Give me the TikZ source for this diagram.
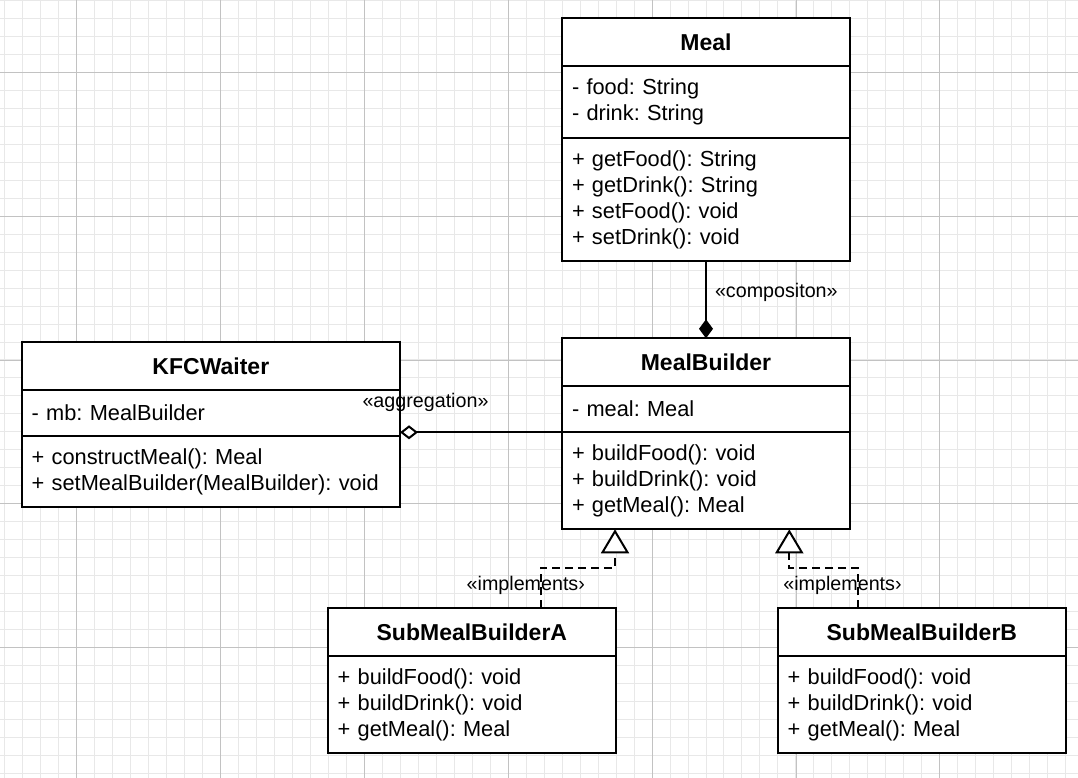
\documentclass[tikz,border=0pt]{standalone}
\usepackage{fontspec}
\setmainfont{Liberation Sans}
\frenchspacing
\usetikzlibrary{arrows.meta, positioning, calc}

\tikzset{
  gridminor/.style={line width=1pt, color=black!9},
  gridmajor/.style={line width=1pt, color=black!24},
  classtitle/.style={draw, line width=2pt, fill=white, outer sep=0pt, inner sep=0pt,
    minimum width=#1, minimum height=47.7pt, font=\bfseries\fontsize{23}{26}\selectfont},
  classpart/.style={draw, line width=2pt, fill=white, outer sep=0pt, inner xsep=10pt,
    inner ysep=0pt, text width=#1, align=left, font=\fontsize{21.8}{26}\selectfont},
  stereo/.style={inner sep=0pt, font=\fontsize{19.7}{22}\selectfont},
  composition/.style={line width=2pt, -{Diamond[length=19pt,width=14pt]}},
  aggregation/.style={line width=2pt, -{Diamond[open,fill=white,length=18pt,width=14pt]}},
  realization/.style={line width=2pt, dash pattern=on 8pt off 5pt,
    -{Triangle[open,fill=white,length=24pt,width=28pt]}}
}

\begin{document}
\begin{tikzpicture}[x=1pt,y=-1pt]
				\useasboundingbox (0,0) rectangle (1078,778);
				
				% Draw the background grid
				\fill[white] (0,0) rectangle (1078,778);
				\foreach \k in {0,...,59} \draw[gridminor] ({4.78+17.98*\k},0) -- ++(0,778);
				\foreach \k in {0,...,43} \draw[gridminor] (0,{0.38+17.98*\k}) -- ++(1078,0);
				\foreach \k in {0,...,6} \draw[gridmajor] ({76.7+143.86*\k},0) -- ++(0,778);
				\foreach \k in {0,...,4} \draw[gridmajor] (0,{72.3+143.86*\k}) -- ++(1078,0);
				
				% Class Meal
				\node[classtitle=288pt, anchor=north west] (mealtitle) at (562,18.3) {Meal};
				\node[classpart=268pt, minimum height=71.6pt, below=0pt of mealtitle] (mealattr)
					{- food: String\\- drink: String};
				\node[classpart=268pt, minimum height=123.7pt, below=0pt of mealattr] (mealops)
					{+ getFood(): String\\+ getDrink(): String\\+ setFood(): void\\+ setDrink(): void};
				
				% Class MealBuilder
				\node[classtitle=288pt, anchor=north west] (mbtitle) at (562,338.3) {MealBuilder};
				\node[classpart=268pt, minimum height=46.3pt, below=0pt of mbtitle] (mbattr)
					{- meal: Meal};
				\node[classpart=268pt, minimum height=97pt, below=0pt of mbattr] (mbops)
					{+ buildFood(): void\\+ buildDrink(): void\\+ getMeal(): Meal};
				
				% Class KFCWaiter
				\node[classtitle=378.3pt, anchor=north west] (kfctitle) at (21.7,342.3) {KFCWaiter};
				\node[classpart=358.3pt, minimum height=46pt, below=0pt of kfctitle] (kfcattr)
					{- mb: MealBuilder};
				\node[classpart=358.3pt, minimum height=71.3pt, below=0pt of kfcattr] (kfcops)
					{+ constructMeal(): Meal\\+ setMealBuilder(MealBuilder): void};
				
				% Classes SubMealBuilderA and SubMealBuilderB
				\node[classtitle=288.3pt, anchor=north west] (subAtitle) at (327.7,608.3) {SubMealBuilderA};
				\node[classpart=268.3pt, minimum height=97.3pt, below=0pt of subAtitle] (subAops)
					{+ buildFood(): void\\+ buildDrink(): void\\+ getMeal(): Meal};
				\node[classtitle=288.3pt, anchor=north west] (subBtitle) at (777.7,608.3) {SubMealBuilderB};
				\node[classpart=268.3pt, minimum height=97.3pt, below=0pt of subBtitle] (subBops)
					{+ buildFood(): void\\+ buildDrink(): void\\+ getMeal(): Meal};
				
				% Draw the composition between Meal and MealBuilder
				\draw[composition] (mealops.south) -- (mbtitle.north)
					node[stereo, pos=0.41, right=8pt] (lblcomp) {«compositon»};
				
				% Draw the aggregation from MealBuilder to KFCWaiter
				\draw[aggregation] (mbops.north west) -- (mbops.north west -| kfcattr.east);
				\node[stereo] (lblagg) at (425.5,402) {«aggregation»};
				
				% Draw the realizations of MealBuilder
				\draw[realization] ([xshift=213pt]subAtitle.north west) -- ++(0,-40.3)
					-| ([xshift=53pt]mbops.south west);
				\node[stereo] (lblimplA) at (525.8,585) {«implements›};
				\draw[realization] ([xshift=80pt]subBtitle.north west) -- ++(0,-40.3)
					-| ([xshift=227.3pt]mbops.south west);
				\node[stereo] (lblimplB) at (842.5,585) {«implements›};
			\end{tikzpicture}
\end{document}
